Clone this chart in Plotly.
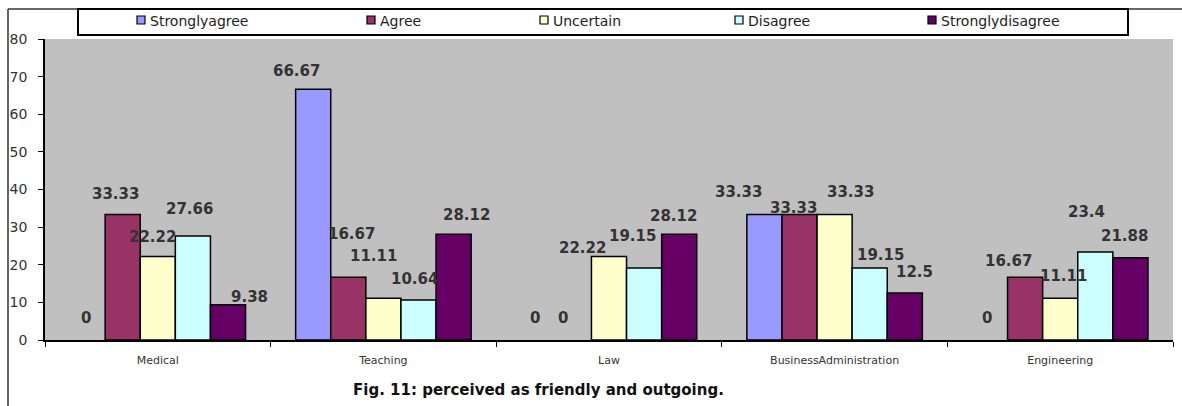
import plotly.graph_objects as go

# Survey responses (%) by faculty
categories = ["Medical", "Teaching", "Law", "BusinessAdministration", "Engineering"]
series_names = ["Stronglyagree", "Agree", "Uncertain", "Disagree", "Stronglydisagree"]
strongly_agree = [0, 66.67, 0, 33.33, 0]
agree = [33.33, 16.67, 0, 33.33, 16.67]
uncertain = [22.22, 11.11, 22.22, 33.33, 11.11]
disagree = [27.66, 10.64, 19.15, 19.15, 23.4]
strongly_disagree = [9.38, 28.12, 28.12, 12.5, 21.88]
y_ticks = [0, 10, 20, 30, 40, 50, 60, 70, 80]

series_values = [strongly_agree, agree, uncertain, disagree, strongly_disagree]
colors = ["#9999FF", "#993366", "#FFFFCC", "#CCFFFF", "#660066"]

# hand-placed label nudges (x px, height above bar top px), per series and category
label_nudge = [
    [(-2, 22), (-17, 18), (-4, 22), (-26, 23), (-3, 22)],
    [(-7, 21), (3, 43), (-11, 22), (-6, 7), (-17, 16)],
    [(-5, 19), (-10, 42), (-27, 8), (16, 23), (3, 22)],
    [(-3, 27), (-4, 21), (-12, 32), (11, 13), (-9, 40)],
    [(21, 8), (13, 19), (-6, 18), (10, 21), (-6, 22)],
]

W, H = 1182, 406
ML, MR, MT, MB = 45, 9, 39, 66
PW, PH = W - ML - MR, H - MT - MB
BARGAP = 0.222
FONT = "DejaVu Sans, Arial"


def px_x(p):
    return (p - ML) / PW


def px_y(p):
    return (H - MB - p) / PH


fig = go.Figure()
for name, vals, col in zip(series_names, series_values, colors):
    fig.add_trace(go.Bar(
        x=categories, y=vals, name=name, showlegend=False,
        marker=dict(color=col,
                    line=dict(color="#000000", width=[1.5 if v else 0 for v in vals])),
    ))

# value labels above each bar
annotations = []
n = len(series_names)
bw = (1 - BARGAP) / n
for si, vals in enumerate(series_values):
    for ci, v in enumerate(vals):
        dx, dy = label_nudge[si][ci]
        annotations.append(dict(
            x=ci + (si - (n - 1) / 2) * bw, y=v, xref="x", yref="y",
            text=f"{v:g}", showarrow=False, yanchor="middle",
            xshift=dx, yshift=dy,
            font=dict(family=FONT, size=15, color="#333333", weight="bold"),
        ))

# caption
annotations.append(dict(
    x=px_x(538), y=px_y(390), xref="paper", yref="paper",
    text="<b>Fig. 11: perceived as friendly and outgoing.</b>", showarrow=False,
    xanchor="center", yanchor="middle",
    font=dict(family=FONT, size=15, color="#111111"),
))

shapes = [
    # outer chart frame
    dict(type="line", xref="paper", yref="paper", x0=px_x(8), x1=px_x(1190),
         y0=px_y(9), y1=px_y(9), line=dict(color="#333333", width=1.5)),
    dict(type="line", xref="paper", yref="paper", x0=px_x(8), x1=px_x(8),
         y0=px_y(9), y1=px_y(415), line=dict(color="#333333", width=1.5)),
    # legend box
    dict(type="rect", xref="paper", yref="paper", x0=px_x(78), x1=px_x(1128),
         y0=px_y(9), y1=px_y(35), fillcolor="#FFFFFF", line=dict(color="#000000", width=2)),
]

# legend entries
legend_left = [137, 367, 540, 735, 928]
for name, col, lx in zip(series_names, colors, legend_left):
    shapes.append(dict(type="rect", xref="paper", yref="paper",
                       x0=px_x(lx), x1=px_x(lx + 8), y0=px_y(16), y1=px_y(24),
                       fillcolor=col, line=dict(color="#000000", width=1.2)))
    annotations.append(dict(
        x=px_x(lx + 11), y=px_y(21), xref="paper", yref="paper", text=name,
        showarrow=False, xanchor="left", yanchor="middle",
        font=dict(family=FONT, size=14, color="#222222"),
    ))

fig.update_layout(
    width=W, height=H,
    margin=dict(l=ML, r=MR, t=MT, b=MB, pad=0),
    paper_bgcolor="#FFFFFF", plot_bgcolor="#C0C0C0",
    barmode="group", bargap=BARGAP, bargroupgap=0,
    annotations=annotations, shapes=shapes,
    xaxis=dict(
        showline=True, linecolor="#000000", linewidth=1.5,
        ticks="outside", ticklen=5, tickcolor="#000000", tickson="boundaries",
        tickfont=dict(family=FONT, size=11, color="#333333"),
        ticklabelstandoff=9, showgrid=False, zeroline=False,
    ),
    yaxis=dict(
        range=[0, 80], tickvals=y_ticks,
        showline=True, linecolor="#000000", linewidth=1.5,
        ticks="outside", ticklen=5, tickcolor="#000000",
        tickfont=dict(family=FONT, size=14, color="#333333"),
        ticklabelstandoff=8, showgrid=False, zeroline=False,
    ),
)

fig.write_html("out.html")
